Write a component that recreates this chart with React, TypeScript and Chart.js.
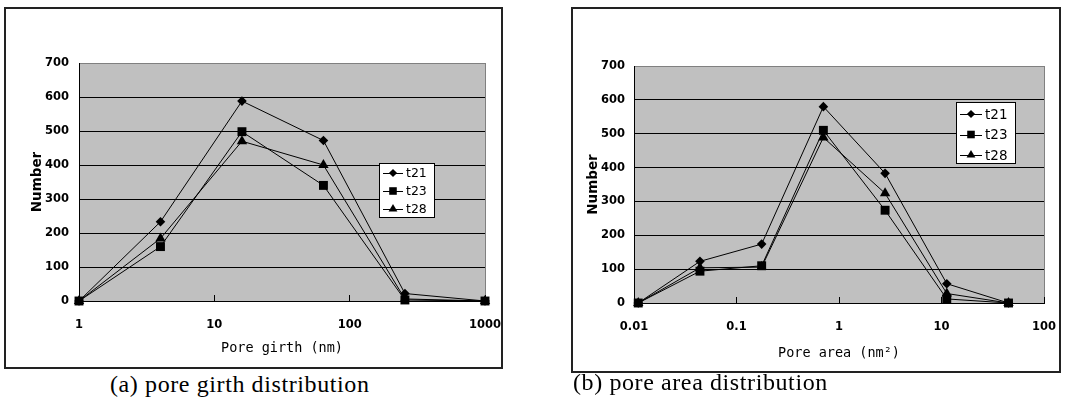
import React, { useEffect, useRef } from 'react';
import { Chart, registerables } from 'chart.js';

Chart.register(...registerables);

// ---------- data ----------
const seriesNames = ['t21', 't23', 't28'];
const markerStyles = ['rectRot', 'rect', 'triangle'];
const markerRadii = [4.8, 6.3, 6];

const girthX = [1, 4, 16, 64, 256, 1000];
const girthT21 = [0, 233, 588, 472, 22, 0];
const girthT23 = [0, 160, 498, 340, 3, 0];
const girthT28 = [0, 184, 470, 400, 6, 0];
const girthTicks = [1, 10, 100, 1000];

const areaX = [0.011, 0.044, 0.176, 0.704, 2.816, 11.26, 45.06];
const areaT21 = [0, 123, 174, 580, 383, 57, 0];
const areaT23 = [0, 94, 110, 510, 274, 12, 0];
const areaT28 = [0, 104, 106, 489, 324, 28, 0];
const areaTicks = [0.01, 0.1, 1, 10, 100];

const yMin = 0;
const yMax = 700;
const yStep = 100;

// ---------- helpers ----------
function markerPath(ctx: CanvasRenderingContext2D, style: string, x: number, y: number, r: number) {
  ctx.beginPath();
  if (style === 'rectRot') {
    ctx.moveTo(x, y - r);
    ctx.lineTo(x + r, y);
    ctx.lineTo(x, y + r);
    ctx.lineTo(x - r, y);
  } else if (style === 'rect') {
    const s = Math.SQRT1_2 * r;
    ctx.rect(x - s, y - s, 2 * s, 2 * s);
  } else {
    for (let k = 0; k < 3; k++) {
      const a = -Math.PI / 2 + (k * 2 * Math.PI) / 3;
      const px = x + Math.cos(a) * r;
      const py = y + Math.sin(a) * r;
      if (k === 0) ctx.moveTo(px, py);
      else ctx.lineTo(px, py);
    }
  }
  ctx.closePath();
}

const plotBgPlugin = {
  id: 'plotBg',
  beforeDraw(chart: any) {
    const { ctx, chartArea: a } = chart;
    ctx.save();
    ctx.fillStyle = '#c0c0c0';
    ctx.fillRect(a.left, a.top, a.right - a.left, a.bottom - a.top);
    ctx.strokeStyle = '#808080';
    ctx.lineWidth = 1;
    ctx.strokeRect(Math.round(a.left) + 0.5, Math.round(a.top) + 0.5, Math.round(a.right - a.left), Math.round(a.bottom - a.top));
    ctx.restore();
  },
};

const boxLegendPlugin = {
  id: 'boxLegend',
  afterDraw(chart: any, _args: any, opts: any) {
    if (!opts || !opts.box) return;
    const { ctx } = chart;
    const [bx, by, bw, bh] = opts.box;
    ctx.save();
    ctx.fillStyle = '#ffffff';
    ctx.fillRect(bx, by, bw, bh);
    ctx.strokeStyle = '#000';
    ctx.lineWidth = 1;
    ctx.strokeRect(bx + 0.5, by + 0.5, bw, bh);
    ctx.font = opts.font;
    ctx.textBaseline = 'middle';
    ctx.textAlign = 'left';
    chart.data.datasets.forEach((ds: any, i: number) => {
      const cy = by + opts.firstRow + i * opts.rowH;
      const x1 = bx + 4;
      const x2 = bx + opts.lineLen + 4;
      ctx.strokeStyle = '#000';
      ctx.lineWidth = 1;
      ctx.beginPath();
      ctx.moveTo(x1, Math.round(cy) + 0.5);
      ctx.lineTo(x2, Math.round(cy) + 0.5);
      ctx.stroke();
      ctx.fillStyle = '#000';
      markerPath(ctx, ds.pointStyle, (x1 + x2) / 2, cy, ds.pointRadius * 0.85);
      ctx.fill();
      ctx.fillText(ds.label, x2 + 3, cy + 1);
    });
    ctx.restore();
  },
};

type PanelProps = {
  width: number;
  height: number;
  xs: number[];
  series: number[][];
  xMin: number;
  xMax: number;
  xTicks: number[];
  xTitle: string;
  yAxisWidth: number;
  xAxisHeight: number;
  padTop: number;
  padRight: number;
  yTitlePad: number;
  yTickPad: number;
  xTickPad: number;
  xTitlePad: number;
  legend: any;
};

function ChartPanel(p: PanelProps) {
  const ref = useRef<HTMLCanvasElement | null>(null);
  useEffect(() => {
    if (!ref.current) return;
    const datasets = p.series.map((vals, i) => ({
      label: seriesNames[i],
      data: p.xs.map((x, j) => ({ x, y: vals[j] })),
      borderColor: '#000',
      backgroundColor: '#000',
      pointBackgroundColor: '#000',
      pointBorderColor: '#000',
      borderWidth: 1,
      pointBorderWidth: 0,
      pointStyle: markerStyles[i],
      pointRadius: markerRadii[i],
      tension: 0,
      clip: false as any,
    }));
    const chart = new Chart(ref.current, {
      type: 'line',
      data: { datasets },
      plugins: [plotBgPlugin, boxLegendPlugin],
      options: {
        animation: false,
        responsive: false,
        maintainAspectRatio: false,
        events: [],
        layout: { padding: { top: p.padTop, right: p.padRight, left: 0, bottom: 0 } },
        plugins: {
          legend: { display: false },
          tooltip: { enabled: false },
          boxLegend: p.legend,
        } as any,
        scales: {
          x: {
            type: 'logarithmic',
            min: p.xMin,
            max: p.xMax,
            afterBuildTicks: (axis: any) => {
              axis.ticks = p.xTicks.map((v) => ({ value: v }));
            },
            afterFit: (axis: any) => {
              axis.height = p.xAxisHeight;
              axis.paddingLeft = 0;
              axis.paddingRight = 0;
            },
            grid: {
              drawOnChartArea: false,
              drawTicks: true,
              tickLength: -6,
              color: '#000',
              lineWidth: 1,
            },
            border: { display: true, color: '#000', width: 1 },
            ticks: {
              autoSkip: false,
              maxRotation: 0,
              padding: p.xTickPad,
              color: '#000',
              font: { family: 'DejaVu Sans', size: 11.5, weight: 'bold' },
              callback: (v: any) => String(v),
            },
            title: {
              display: true,
              text: p.xTitle,
              color: '#000',
              padding: { top: 0, bottom: p.xTitlePad },
              font: { family: 'DejaVu Sans Mono', size: 13.5 },
            },
          },
          y: {
            type: 'linear',
            min: yMin,
            max: yMax,
            afterFit: (axis: any) => {
              axis.width = p.yAxisWidth;
              axis.paddingTop = 0;
              axis.paddingBottom = 0;
            },
            grid: {
              drawTicks: false,
              color: (c: any) => (c.tick && c.tick.value === yMax ? '#808080' : '#000'),
              lineWidth: 1,
            },
            border: { display: true, color: '#000', width: 1 },
            ticks: {
              stepSize: yStep,
              padding: p.yTickPad,
              color: '#000',
              font: { family: 'DejaVu Sans', size: 11.5, weight: 'bold' },
            },
            title: {
              display: true,
              text: 'Number',
              color: '#000',
              padding: { top: p.yTitlePad, bottom: 0 },
              font: { family: 'DejaVu Sans', size: 13.5, weight: 'bold' },
            },
          },
        } as any,
      },
    });
    return () => chart.destroy();
  }, []);
  return <canvas ref={ref} width={p.width} height={p.height} style={{ display: 'block', width: p.width, height: p.height }} />;
}

export default function App() {
  const frame = (left: number, top: number, w: number, h: number): React.CSSProperties => ({
    position: 'absolute',
    left,
    top,
    width: w,
    height: h,
    border: '2px solid #222',
    boxSizing: 'border-box',
    background: '#fff',
  });
  const caption = (left: number, top: number): React.CSSProperties => ({
    position: 'absolute',
    left,
    top,
    fontFamily: '"Liberation Serif", "Times New Roman", serif',
    fontSize: 24,
    lineHeight: '24px',
    letterSpacing: '0.6px',
    color: '#000',
    whiteSpace: 'nowrap',
  });
  return (
    <div style={{ position: 'fixed', left: 0, top: 0, width: 1078, height: 403, background: '#fff' }}>
      <div style={frame(4, 7, 499, 362)}>
        <ChartPanel
          width={495}
          height={358}
          xs={girthX}
          series={[girthT21, girthT23, girthT28]}
          xMin={1}
          xMax={1000}
          xTicks={girthTicks}
          xTitle="Pore girth (nm)"
          yAxisWidth={73}
          xAxisHeight={66}
          padTop={54}
          padRight={16}
          yTitlePad={23}
          yTickPad={10}
          xTickPad={23}
          xTitlePad={10}
          legend={{ box: [373, 154, 55, 54], firstRow: 10, rowH: 18, lineLen: 20, font: '12.5px "DejaVu Sans"' }}
        />
      </div>
      <div style={caption(110, 372)}>(a) pore girth distribution</div>
      <div style={frame(571, 7, 490, 366)}>
        <ChartPanel
          width={486}
          height={362}
          xs={areaX}
          series={[areaT21, areaT23, areaT28]}
          xMin={0.01}
          xMax={100}
          xTicks={areaTicks}
          xTitle="Pore area (nm²)"
          yAxisWidth={61}
          xAxisHeight={68}
          padTop={57}
          padRight={15}
          yTitlePad={12}
          yTickPad={9}
          xTickPad={23}
          xTitlePad={9}
          legend={{ box: [383, 93, 59, 61], firstRow: 12, rowH: 20.5, lineLen: 22, font: '13.5px "DejaVu Sans"' }}
        />
      </div>
      <div style={caption(573, 370)}>(b) pore area distribution</div>
    </div>
  );
}
